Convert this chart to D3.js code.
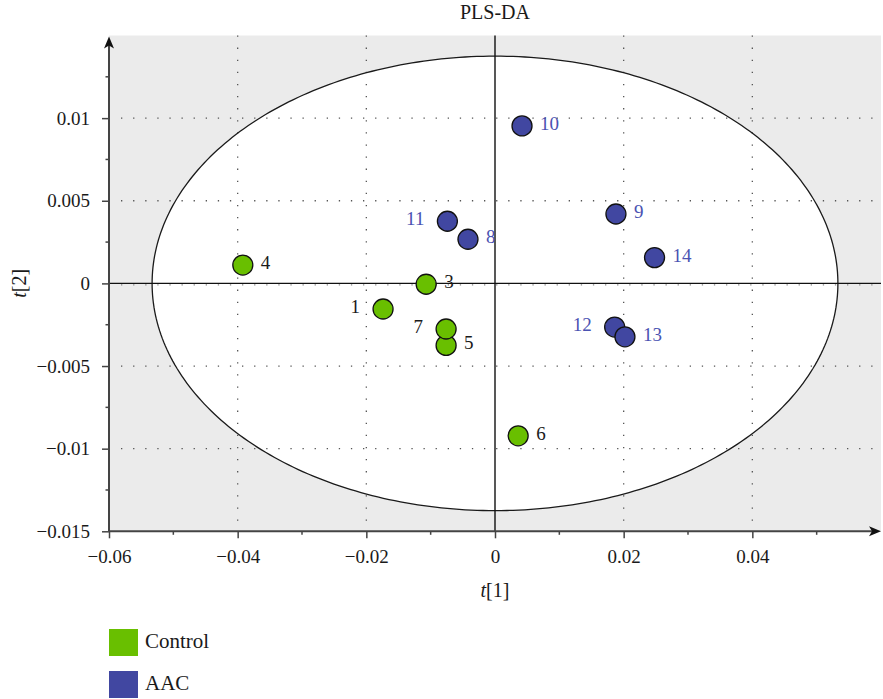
<!DOCTYPE html>
<html>
<head>
<meta charset="utf-8">
<script src="https://cdn.jsdelivr.net/npm/d3@7"></script>
<style>
  html, body { margin: 0; padding: 0; background: #fff; }
  svg { display: block; font-family: "Liberation Serif", "DejaVu Serif", serif; }
</style>
</head>
<body>
<svg id="chart" width="883" height="699"></svg>
<script>
// Sample scores on the first two PLS-DA components
const sampleIds = ["1", "2", "3", "4", "5", "6", "7", "8", "9", "10", "11", "12", "13", "14"];
const groups = ["Control", "Control", "Control", "Control", "Control", "Control", "Control",
                "AAC", "AAC", "AAC", "AAC", "AAC", "AAC", "AAC"];
const t1 = [-0.0174, null, -0.0107, -0.0392, -0.0076, 0.0036, -0.0076,
            -0.0042, 0.0188, 0.0042, -0.0074, 0.0186, 0.0202, 0.0248];
const t2 = [-0.00155, null, -0.00005, 0.00111, -0.00375, -0.00922, -0.00276,
            0.00267, 0.0042, 0.00953, 0.00376, -0.00264, -0.00323, 0.00156];

const groupNames = ["Control", "AAC"];
const xTicks = [-0.06, -0.04, -0.02, 0, 0.02, 0.04];
const yTicks = [-0.015, -0.01, -0.005, 0, 0.005, 0.01];
const xMinorTicks = [-0.05, -0.03, -0.01, 0.01, 0.03, 0.05];
const yMinorTicks = [-0.0125, -0.0075, -0.0025, 0.0025, 0.0075, 0.0125];
// Hotelling T2 ellipse half-axes (centre at origin)
const ellipseAxes = [0.0533, 0.01375];

const points = sampleIds.map((id, i) => ({ id, group: groups[i], x: t1[i], y: t2[i] }))
  .filter(d => d.x !== null);

const svg = d3.select("#chart");
const plotL = 109, plotR = 881, plotT = 35.5, plotB = 531.3;

const x = d3.scaleLinear().domain([-0.06, 0.06]).range([plotL, plotR]);
const y = d3.scaleLinear().domain([-0.015, 0.015]).range([plotB, plotT]);

const fillColor = d3.scaleOrdinal().domain(groupNames).range(["#69bf00", "#4147a1"]);
const textColor = d3.scaleOrdinal().domain(groupNames).range(["#1a1a1a", "#4a52b2"]);

// Plot background
svg.append("rect").attr("x", plotL).attr("y", plotT)
  .attr("width", plotR - plotL).attr("height", plotB - plotT).attr("fill", "#ebebeb");

// Ellipse outline built in data space
const ellPts = d3.range(0, 361, 1).map(a => {
  const r = a * Math.PI / 180;
  return [ellipseAxes[0] * Math.cos(r), ellipseAxes[1] * Math.sin(r)];
});
const ellLine = d3.line().x(d => x(d[0])).y(d => y(d[1]));
svg.append("path").attr("d", ellLine(ellPts)).attr("fill", "#fff");

// Dotted grid
const grid = svg.append("g").attr("stroke", "#555").attr("stroke-width", 1.3)
  .attr("stroke-dasharray", "1.3,10.8");
grid.selectAll("line.v").data(xTicks.filter(v => v !== 0 && v !== -0.06)).join("line")
  .attr("x1", d => x(d)).attr("x2", d => x(d)).attr("y1", plotT).attr("y2", plotB);
grid.selectAll("line.h").data(yTicks.filter(v => v !== 0 && v !== -0.015)).join("line")
  .attr("y1", d => y(d)).attr("y2", d => y(d)).attr("x1", plotL + 12).attr("x2", plotR);
// faint dotted trace along the zero line
grid.append("line").attr("x1", plotL + 12).attr("x2", plotR)
  .attr("y1", y(0) + 1.5).attr("y2", y(0) + 1.5).attr("stroke", "#888");

svg.append("path").attr("d", ellLine(ellPts)).attr("fill", "none")
  .attr("stroke", "#1a1a1a").attr("stroke-width", 1.3);

// Zero lines
svg.append("line").attr("x1", plotL).attr("x2", plotR).attr("y1", y(0)).attr("y2", y(0))
  .attr("stroke", "#111").attr("stroke-width", 1.4);
svg.append("line").attr("x1", x(0)).attr("x2", x(0)).attr("y1", plotT).attr("y2", plotB)
  .attr("stroke", "#111").attr("stroke-width", 1.4);

// Axes
const fmt = d => String(+d.toFixed(3)).replace("-", "\u2212");
const xAxis = d3.axisBottom(x).tickValues(xTicks).tickSize(7).tickPadding(11).tickFormat(fmt);
const gx = svg.append("g").attr("transform", `translate(0,${plotB})`).call(xAxis);
const yAxis = d3.axisLeft(y).tickValues(yTicks).tickSize(7).tickPadding(12).tickFormat(fmt);
const gy = svg.append("g").attr("transform", `translate(${plotL},0)`).call(yAxis);

[gx, gy].forEach(g => {
  g.select(".domain").remove();
  g.selectAll(".tick line").attr("stroke", "#444").attr("stroke-width", 1.5);
  g.selectAll(".tick text").attr("fill", "#1a1a1a").attr("font-size", 19)
    .attr("font-family", "Liberation Serif, DejaVu Serif, serif");
});

// Minor ticks
svg.append("g").selectAll("line").data(xMinorTicks).join("line")
  .attr("x1", d => x(d)).attr("x2", d => x(d)).attr("y1", plotB).attr("y2", plotB + 3.5)
  .attr("stroke", "#444").attr("stroke-width", 1.5);
svg.append("g").selectAll("line").data(yMinorTicks).join("line")
  .attr("y1", d => y(d)).attr("y2", d => y(d)).attr("x1", plotL).attr("x2", plotL - 3.5)
  .attr("stroke", "#444").attr("stroke-width", 1.5);

// Axis lines with arrow heads
svg.append("line").attr("x1", plotL).attr("x2", plotR - 6).attr("y1", plotB).attr("y2", plotB)
  .attr("stroke", "#444").attr("stroke-width", 2);
svg.append("line").attr("x1", plotL).attr("x2", plotL).attr("y1", plotB).attr("y2", plotT + 6)
  .attr("stroke", "#444").attr("stroke-width", 2);
svg.append("path")
  .attr("d", `M${plotR},${plotB} L${plotR - 12},${plotB - 5} L${plotR - 9},${plotB} L${plotR - 12},${plotB + 5} Z`)
  .attr("fill", "#111");
svg.append("path")
  .attr("d", `M${plotL},${plotT + 1} L${plotL - 5},${plotT + 13} L${plotL},${plotT + 10} L${plotL + 5},${plotT + 13} Z`)
  .attr("fill", "#111");

// Sample markers
svg.append("g").selectAll("circle").data(points).join("circle")
  .attr("cx", d => x(d.x)).attr("cy", d => y(d.y)).attr("r", 10)
  .attr("fill", d => fillColor(d.group)).attr("stroke", "#111").attr("stroke-width", 1.3);

// Sample labels
const leftLabels = new Set(["1", "7", "11", "12"]);
svg.append("g").selectAll("text").data(points).join("text")
  .attr("x", d => x(d.x) + (leftLabels.has(d.id) ? -23 : 18))
  .attr("y", d => y(d.y) + 4)
  .attr("text-anchor", d => leftLabels.has(d.id) ? "end" : "start")
  .attr("font-size", 19)
  .attr("fill", d => textColor(d.group))
  .text(d => d.id);

// Title and axis titles
svg.append("text").attr("x", x(0)).attr("y", 19).attr("text-anchor", "middle")
  .attr("font-size", 20).attr("fill", "#1a1a1a").text("PLS-DA");

const xt = svg.append("text").attr("x", x(0)).attr("y", 597).attr("text-anchor", "middle")
  .attr("font-size", 20).attr("fill", "#1a1a1a");
xt.append("tspan").attr("font-style", "italic").text("t");
xt.append("tspan").text("[1]");

const yt = svg.append("text").attr("transform", `translate(26,${y(0)}) rotate(-90)`)
  .attr("text-anchor", "middle").attr("font-size", 20).attr("fill", "#1a1a1a");
yt.append("tspan").attr("font-style", "italic").text("t");
yt.append("tspan").text("[2]");

// Legend
const legend = svg.append("g").selectAll("g").data(groupNames).join("g")
  .attr("transform", (d, i) => `translate(109,${629 + i * 42})`);
legend.append("rect").attr("width", 29).attr("height", 27).attr("fill", d => fillColor(d));
legend.append("text").attr("x", 36).attr("y", 19).attr("font-size", 21)
  .attr("fill", "#1a1a1a").text(d => d);
</script>
</body>
</html>
